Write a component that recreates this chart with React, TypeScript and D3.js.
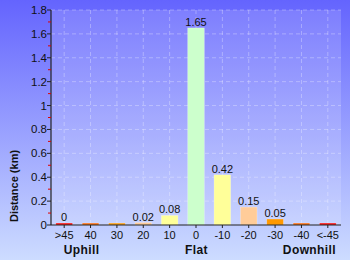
import React from "react";
import * as d3 from "d3";

const categories = [">45", "40", "30", "20", "10", "0", "-10", "-20", "-30", "-40", "<-45"];
const values = [0.016, 0.016, 0.016, 0.02, 0.08, 1.65, 0.42, 0.15, 0.05, 0.016, 0.016];
const valueLabels = ["0", "", "", "0.02", "0.08", "1.65", "0.42", "0.15", "0.05", "", ""];
const barColors = ["#ff0000", "#ff6600", "#ff9900", "#ffcc99", "#ffff99", "#ccffcc", "#ffff99", "#ffcc99", "#ff9900", "#ff6600", "#ff0000"];
const yTicks = [0, 0.2, 0.4, 0.6, 0.8, 1, 1.2, 1.4, 1.6, 1.8];
const yMinorTicks = [0.1, 0.3, 0.5, 0.7, 0.9, 1.1, 1.3, 1.5, 1.7];
const groupLabels = [
  { text: "Uphill", cat: "40", dx: -9 },
  { text: "Flat", cat: "0", dx: 0.5 },
  { text: "Downhill", cat: "-40", dx: 8 },
];

export default function App() {
  const W = 350, H = 260;
  const left = 51, right = 341, top = 10, bottom = 225;
  const x = d3.scaleBand().domain(categories).range([left, right]).paddingInner(0.37).paddingOuter(0.185);
  const y = d3.scaleLinear().domain([0, 1.8]).range([bottom, top]);
  const font = "Liberation Sans, Arial, sans-serif";
  const cx = (c: string) => (x(c) as number) + x.bandwidth() / 2;
  return (
    <svg width={W} height={H} style={{ position: "absolute", left: 0, top: 0 }} fontFamily={font}>
      <defs>
        <linearGradient id="bg" x1="0" y1="0" x2="0" y2="1">
          <stop offset="0" stopColor="#6464fe" />
          <stop offset="1" stopColor="#cddcff" />
        </linearGradient>
      </defs>
      <rect x={0} y={0} width={W} height={H} fill="url(#bg)" />
      <rect x={left} y={top} width={right - left} height={bottom - top} fill="#ffffff" opacity={0.15} />
      {yTicks.slice(1).map((t) => (
        <line key={"gy" + t} x1={left} x2={right} y1={y(t)} y2={y(t)} stroke="#ffffff" strokeOpacity={0.3} strokeDasharray="4,3" />
      ))}
      {categories.map((c) => (
        <line key={"gx" + c} x1={cx(c)} x2={cx(c)} y1={top} y2={bottom} stroke="#ffffff" strokeOpacity={0.3} strokeDasharray="4,3" />
      ))}
      {categories.map((c, i) => {
        const v = values[i];
        const y0 = y(v);
        return (
          <g key={"b" + c}>
            <rect x={x(c)} y={y0} width={x.bandwidth()} height={bottom - y0} fill={barColors[i]} stroke="#ffffff" strokeOpacity={0.4} strokeWidth={0.6} />
            {valueLabels[i] && (
              <text x={cx(c)} y={y0 - 2} textAnchor="middle" fontSize={11} fill="#111">{valueLabels[i]}</text>
            )}
          </g>
        );
      })}
      <line x1={left} x2={left} y1={top} y2={bottom} stroke="#222" strokeWidth={1.2} />
      <line x1={left} x2={right} y1={bottom} y2={bottom} stroke="#222" strokeWidth={1.2} />
      {yTicks.map((t) => (
        <g key={"yt" + t}>
          <line x1={left - 4} x2={left} y1={y(t)} y2={y(t)} stroke="#222" />
          <text x={left - 4} y={y(t) + 4} textAnchor="end" fontSize={11.5} fill="#111">{String(t)}</text>
        </g>
      ))}
      {yMinorTicks.map((t) => (
        <line key={"ym" + t} x1={left - 3} x2={left} y1={y(t)} y2={y(t)} stroke="#dd0000" />
      ))}
      {categories.map((c) => (
        <g key={"xt" + c}>
          <line x1={cx(c)} x2={cx(c)} y1={bottom} y2={bottom + 3} stroke="#222" />
          <text x={cx(c)} y={bottom + 14} textAnchor="middle" fontSize={11} fill="#111">{c}</text>
        </g>
      ))}
      {groupLabels.map((g) => (
        <text key={g.text} x={cx(g.cat) + g.dx} y={bottom + 29} textAnchor="middle" fontSize={12} fontWeight="bold" fill="#111" letterSpacing={0.4}>{g.text}</text>
      ))}
      <text transform={`translate(18,186) rotate(-90)`} textAnchor="middle" fontSize={11} fontWeight="bold" fill="#111">Distance (km)</text>
    </svg>
  );
}
